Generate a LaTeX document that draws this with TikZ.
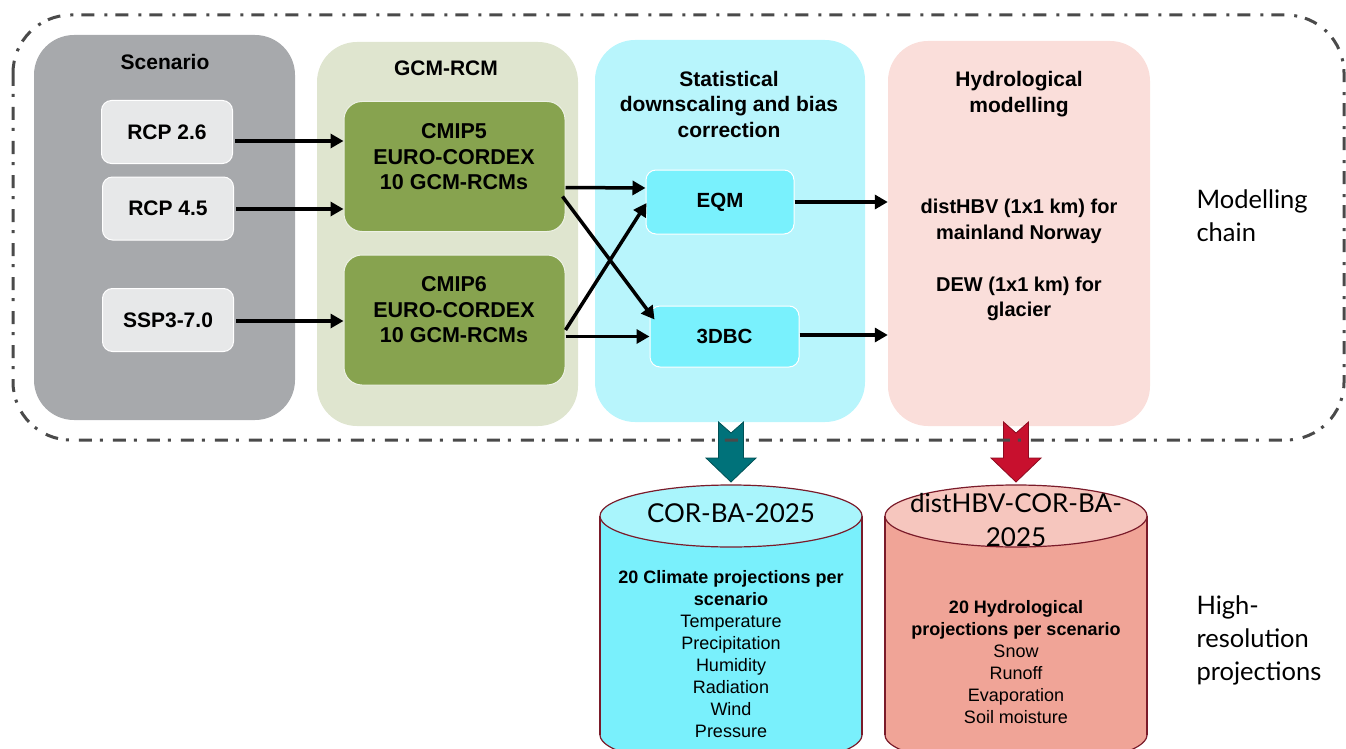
\documentclass[tikz,border=0pt]{standalone}
\usepackage{fontspec}
\setmainfont{Liberation Sans}
\newfontfamily\gill{Lato}
\usetikzlibrary{arrows.meta,calc,shapes.geometric}
\definecolor{scen}{HTML}{A7A9AC}
\definecolor{smallbox}{HTML}{E7E8E9}
\definecolor{gcmpanel}{HTML}{DFE5CF}
\definecolor{cmip}{HTML}{87A34F}
\definecolor{statpanel}{HTML}{B8F5FC}
\definecolor{eqmbox}{HTML}{79F1FD}
\definecolor{hydpanel}{HTML}{FADEDA}
\definecolor{cylAbody}{HTML}{79F0FC}
\definecolor{cylAtop}{HTML}{A9F5FC}
\definecolor{cylBbody}{HTML}{F0A497}
\definecolor{cylBtop}{HTML}{F6C6BE}
\definecolor{cylborder}{HTML}{7A1B2A}
\definecolor{tealarr}{HTML}{00727A}
\definecolor{redarr}{HTML}{C8102E}
\definecolor{dashcol}{HTML}{4A4A4A}
\begin{document}
\begin{tikzpicture}[x=1pt,y=-1pt,
  panel/.style={draw=none,rounded corners=40pt,inner sep=0pt},
  sbox/.style={draw=white,line width=1pt,fill=smallbox,rounded corners=10pt,inner sep=0pt,
     font=\bfseries\fontsize{21}{25.5}\selectfont},
  gbox/.style={draw=white!85!cmip,line width=1pt,fill=cmip,rounded corners=18pt,inner sep=0pt,align=center},
  ebox/.style={draw=white,line width=1pt,fill=eqmbox,rounded corners=10pt,inner sep=0pt,
     font=\bfseries\fontsize{20.5}{25.5}\selectfont},
  ttl/.style={align=center,font=\bfseries\fontsize{21}{25.5}\selectfont},
  gtxt/.style={align=center,font=\bfseries\fontsize{21.5}{25.5}\selectfont},
  arr/.style={line width=3.5pt,-{Triangle[length=13pt,width=14pt]}},
  side/.style={anchor=west,align=left,font=\gill\fontsize{25.5}{33}\selectfont},
  cyltxt/.style={align=center,font=\fontsize{18}{22}\selectfont},
  cylttl/.style={align=center,font=\gill\fontsize{26}{34}\selectfont}
]
\useasboundingbox (0,0) rectangle (1346,749);

% panels
\node[panel,fill=scen,minimum width=261pt,minimum height=385pt] (scen) at (164.5,227.5) {};
\node[panel,fill=gcmpanel,minimum width=261pt,minimum height=384pt] (gcm) at (447.5,234) {};
\node[panel,fill=statpanel,minimum width=270pt,minimum height=382pt] (stat) at (730,231) {};
\node[panel,fill=hydpanel,minimum width=262pt,minimum height=385pt] (hyd) at (1019,233.5) {};

% titles
\node[ttl] (tscen) at (165,62) {Scenario};
\node[ttl] (tgcm) at (446,68) {GCM-RCM};
\node[ttl] (tstat) at (729,104) {Statistical\\downscaling and bias\\correction};
\node[ttl] (thyd) at (1019,94) {Hydrological\\modelling};

% scenario boxes
\node[sbox,minimum width=131pt,minimum height=63pt] (rcp26) at (167,132) {RCP 2.6};
\node[sbox,minimum width=131pt,minimum height=63pt] (rcp45) at (168,208.5) {RCP 4.5};
\node[sbox,minimum width=131pt,minimum height=63pt] (ssp) at (168,320) {SSP3-7.0};

% GCM boxes
\node[gbox,minimum width=221pt,minimum height=130pt] (cmip5) at (454.5,166.5) {};
\node[gtxt] (cmip5t) at (454,157) {CMIP5\\EURO-CORDEX\\10 GCM-RCMs};
\node[gbox,minimum width=221pt,minimum height=130pt] (cmip6) at (454.5,320) {};
\node[gtxt] (cmip6t) at (454,310) {CMIP6\\EURO-CORDEX\\10 GCM-RCMs};

% EQM / 3DBC
\node[ebox,minimum width=148pt,minimum height=64pt] (eqm) at (720,202) {EQM};
\node[ebox,minimum width=149pt,minimum height=61pt] (dbc) at (724.5,336.5) {3DBC};

% hydro text
\node[align=center,font=\bfseries\fontsize{20}{25.5}\selectfont] (hydtxt) at (1019,260)
  {distHBV (1x1 km) for\\mainland Norway\\[26.5pt]DEW (1x1 km) for\\glacier};

% arrows
\draw[arr] ($(rcp26.east)+(2,9)$) -- ($(rcp26.east -| cmip5.west)+(0,9)$);
\draw[arr] ($(rcp45.east)+(2,0.5)$) -- ($(rcp45.east -| cmip5.west)+(0,0.5)$);
\draw[arr] ($(ssp.east)+(2,1)$) -- ($(ssp.east -| cmip6.west)+(0,1)$);
\draw[arr] ($(cmip5.east)+(0,21)$) -- ($(eqm.west)+(0,-14)$);
\draw[arr] ($(cmip5.east)+(-3,30)$) -- ($(dbc.north west)+(5,14)$);
\draw[arr] ($(cmip6.east)+(0,10)$) -- ($(eqm.west)+(1,1)$);
\draw[arr] ($(cmip6.east)+(0,16.5)$) -- (dbc.west);
\draw[arr] (eqm.east) -- (eqm.east -| hyd.west);
\draw[arr] ($(dbc.east)+(0,-1.5)$) -- ($(dbc.east -| hyd.west)+(0,-1.5)$);

% cylinder A
\fill[cylAbody] (600,516) rectangle (862,735);
\fill[cylAbody] (731,735) ellipse[x radius=131,y radius=31];
\draw[cylborder,line width=1.2pt] (600,516) -- (600,735) (862,516) -- (862,735);
\begin{scope}
\clip (590,735) rectangle (872,780);
\draw[cylborder,line width=1.2pt] (731,735) ellipse[x radius=131,y radius=31];
\end{scope}
\node[draw=cylborder,line width=1.2pt,fill=cylAtop,ellipse,minimum width=262pt,minimum height=62pt,inner sep=0pt] (cylA) at (731,516) {};
\node[cylttl] (cylAt) at (731,513) {COR-BA-2025};
\node[cyltxt] (cylAx) at (731,654)
  {\textbf{20 Climate projections per}\\\textbf{scenario}\\Temperature\\Precipitation\\Humidity\\Radiation\\Wind\\Pressure};

% cylinder B
\fill[cylBbody] (885,516) rectangle (1147,735);
\fill[cylBbody] (1016,735) ellipse[x radius=131,y radius=31];
\draw[cylborder,line width=1.2pt] (885,516) -- (885,735) (1147,516) -- (1147,735);
\begin{scope}
\clip (875,735) rectangle (1157,780);
\draw[cylborder,line width=1.2pt] (1016,735) ellipse[x radius=131,y radius=31];
\end{scope}
\node[draw=cylborder,line width=1.2pt,fill=cylBtop,ellipse,minimum width=262pt,minimum height=62pt,inner sep=0pt] (cylB) at (1016,516) {};
\node[cylttl] (cylBt) at (1016,520) {distHBV-COR-BA-\\2025};
\node[cyltxt] (cylBx) at (1016,662)
  {\textbf{20 Hydrological}\\\textbf{projections per scenario}\\Snow\\Runoff\\Evaporation\\Soil moisture};

% block arrows
\coordinate (ta) at (731,422);
\fill[tealarr,draw=tealarr!70!black,line width=0.8pt]
  ($(ta)+(-12.5,0)$) -- ($(ta)+(0,11)$) -- ($(ta)+(12.5,0)$) -- ($(ta)+(12.5,36)$) -- ($(ta)+(25,36)$)
  -- ($(ta)+(0,60)$) -- ($(ta)+(-25,36)$) -- ($(ta)+(-12.5,36)$) -- cycle;
\coordinate (ra) at (1016,422);
\fill[redarr,draw=redarr!70!black,line width=0.8pt]
  ($(ra)+(-12.5,0)$) -- ($(ra)+(0,11)$) -- ($(ra)+(12.5,0)$) -- ($(ra)+(12.5,36)$) -- ($(ra)+(25,36)$)
  -- ($(ra)+(0,60)$) -- ($(ra)+(-25,36)$) -- ($(ra)+(-12.5,36)$) -- cycle;

% outer dash-dot frame
\draw[dashcol,line width=3pt,rounded corners=58pt,dash pattern=on 13pt off 8pt on 3pt off 10pt]
  (13,15) rectangle (1344,440);

% side labels
\node[side] (lmod) at (1193,216) {Modelling\\chain};
\node[side] (lhigh) at (1193,640) {High-\\resolution\\projections};
\end{tikzpicture}
\end{document}
